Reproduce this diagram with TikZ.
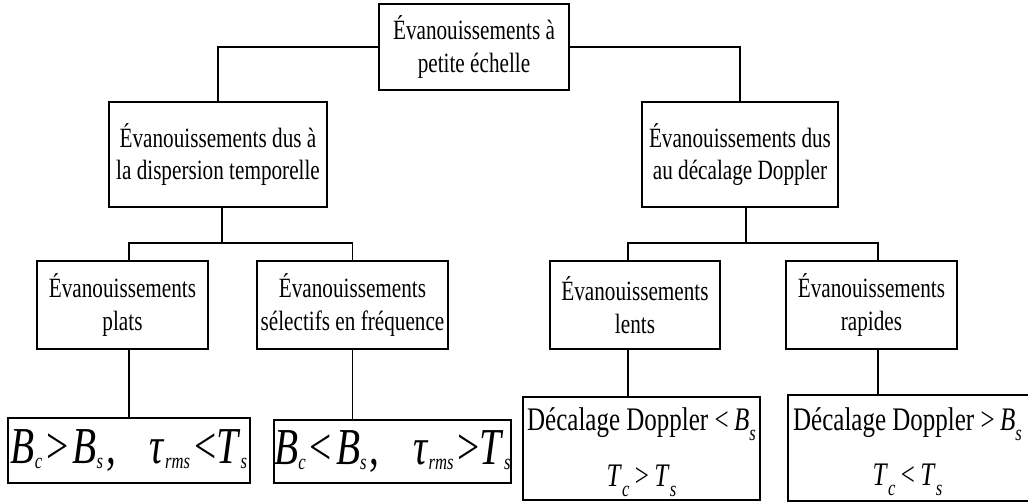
\documentclass[tikz,border=0pt]{standalone}
\usepackage{fontspec}
\setmainfont{Liberation Serif}[FakeStretch=0.76]
% italic symbol with a lowered, fixed-size subscript
\newcommand\withsub[3][5bp]{\textit{#2}\raisebox{-#1}{\fontsize{22}{22}\selectfont\textit{#3}}}
\tikzset{
  frame/.style={draw, line width=1.6bp, rectangle, inner sep=0pt, align=center},
  labelbox/.style={frame, font=\fontsize{28}{33}\selectfont},
  condbox/.style={frame, font=\fontsize{52}{60}\selectfont},
  dopbox/.style={frame, font=\fontsize{33}{56}\selectfont, text depth=3bp},
  link/.style={draw, line width=1.6bp}
}
\begin{document}
\begin{tikzpicture}[x=1bp,y=-1bp]
\clip (0,0) rectangle (1028,502);

% tree of fading types
\node[labelbox, minimum width=190bp, minimum height=86bp] (top) at (474,47)
  {Évanouissements à\\petite échelle};
\node[labelbox, minimum width=218bp, minimum height=105bp] (disp) at (218,154.5)
  {Évanouissements dus à\\la dispersion temporelle};
\node[labelbox, minimum width=196bp, minimum height=105bp] (dopp) at (740,154.5)
  {Évanouissements dus\\au décalage Doppler};
\node[labelbox, minimum width=171bp, minimum height=88bp] (plats) at (122.5,305)
  {Évanouissements\\plats};
\node[labelbox, minimum width=191bp, minimum height=88bp] (selec) at (352.5,305)
  {Évanouissements\\sélectifs en fréquence};
\node[labelbox, minimum width=170bp, minimum height=88bp] (lents) at (635,305)
  {Évanouissements\\lents};
\node[labelbox, minimum width=171bp, minimum height=88bp] (rapides) at (871.5,305)
  {Évanouissements\\rapides};

% conditions
\node[condbox, minimum width=242bp, minimum height=65bp] (c1) at (129,450.5)
  {\withsub{B}{c}\kern4bp>\kern4bp\withsub{B}{s}\kern3bp,\kern34bp\withsub{τ}{rms}\kern4bp<\withsub{T}{s}};
\node[condbox, minimum width=237bp, minimum height=63bp] (c2) at (392.5,451.5)
  {\withsub{B}{c}\kern4bp<\kern4bp\withsub{B}{s}\kern3bp,\kern34bp\withsub{τ}{rms}\kern4bp>\withsub{T}{s}};
\node[dopbox, minimum width=237bp, minimum height=103bp] (c3) at (641.5,448.5)
  {Décalage Doppler <\,\withsub[10bp]{B}{s}\\\withsub[10bp]{T}{c}\,>\,\withsub[10bp]{T}{s}};
\node[dopbox, draw=none, minimum width=237bp, minimum height=104bp] (c4) at (907.5,448)
  {Décalage Doppler >\,\withsub[10bp]{B}{s}\\\withsub[10bp]{T}{c}\,<\,\withsub[10bp]{T}{s}};
\draw[link] (c4.south west) rectangle ([xshift=20bp]c4.north east);

% connectors
\draw[link] (top.west) -| (disp.north);
\draw[link] (top.east) -| (dopp.north);

\coordinate (busL) at (222,243);
\coordinate (busR) at (746,243);
\draw[link] ([xshift=4bp]disp.south) -- (busL);
\draw[link] ([xshift=6.5bp]plats.north) |- (busL) -| (selec.north);
\draw[link] ([xshift=6bp]dopp.south) -- (busR);
\draw[link] ([xshift=-7bp]lents.north) |- (busR) -| ([xshift=6.5bp]rapides.north);

\draw[link] ([xshift=6.5bp]plats.south) -- (c1.north);
\draw[link] (selec.south) -- (selec.south |- c2.north);
\draw[link] ([xshift=-7bp]lents.south) -- ([xshift=-7bp]lents.south |- c3.north);
\draw[link] ([xshift=6.5bp]rapides.south) -- ([xshift=6.5bp]rapides.south |- c4.north);
\end{tikzpicture}
\end{document}
